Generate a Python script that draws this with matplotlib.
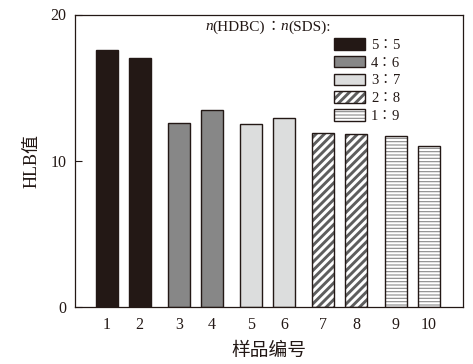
import matplotlib
matplotlib.use("Agg")
import matplotlib.pyplot as plt
from matplotlib.patches import Patch, Rectangle
from matplotlib.legend_handler import HandlerTuple

plt.rcParams['font.family'] = ['Liberation Serif', 'DejaVu Serif', 'Noto Sans CJK SC']

samples = ['1', '2', '3', '4', '5', '6', '7', '8', '9', '10']
hlb = [17.6, 17.0, 12.6, 13.5, 12.5, 12.9, 11.9, 11.85, 11.7, 11.0]
group_of = [0, 0, 1, 1, 2, 2, 3, 3, 4, 4]
ratios = ['5∶5', '4∶6', '3∶7', '2∶8', '1∶9']
title_parts = [('n', 'italic'), ('(HDBC)', 'normal'), ('∶', 'normal'),
               ('n', 'italic'), ('(SDS):', 'normal')]

INK = '#231815'
styles = [
    dict(face=INK, hatch=None, hcolor=None, hlw=None),
    dict(face='#878787', hatch=None, hcolor=None, hlw=None),
    dict(face='#dcdddd', hatch=None, hcolor=None, hlw=None),
    dict(face='white', hatch='////', hcolor='#5e5e5e', hlw=2.1),
    dict(face='white', hatch='-----', hcolor='#8a8a8a', hlw=0.8),
]
hatch_lw = {st['hatch']: st['hlw'] for st in styles if st['hatch']}

fig = plt.figure(figsize=(4.73, 3.64), dpi=100)
ax = fig.add_axes([75/473, 1-307/364, (463-75)/473, (307-14.5)/364])

pos = [i + 0.2*g for i, g in enumerate(group_of)]
width = 0.67


def set_hlw(p, lw):
    try:
        p.set_hatch_linewidth(lw)
    except Exception:
        pass


for x, v, g in zip(pos, hlb, group_of):
    st = styles[g]
    if st['hatch']:
        plt.rcParams['hatch.linewidth'] = st['hlw']
        b = ax.bar(x, v, width, color=st['face'], edgecolor=st['hcolor'],
                   hatch=st['hatch'], linewidth=0)
        set_hlw(b[0], st['hlw'])
        ax.bar(x, v, width, fill=False, edgecolor=INK, linewidth=1.0)
    else:
        ax.bar(x, v, width, color=st['face'], edgecolor=INK, linewidth=1.0)

handles = []
for st in styles:
    if st['hatch']:
        h1 = Patch(facecolor=st['face'], edgecolor=st['hcolor'], hatch=st['hatch'], linewidth=0)
        set_hlw(h1, st['hlw'])
        h2 = Patch(fill=False, edgecolor=INK, linewidth=1.0)
        handles.append((h1, h2))
    else:
        handles.append(Patch(facecolor=st['face'], edgecolor=INK, linewidth=1.0))

leg = ax.legend(handles, ratios, handler_map={tuple: HandlerTuple(ndivide=1, pad=0)},
                loc='upper left', bbox_to_anchor=(334/473, 1-38/364),
                bbox_transform=fig.transFigure, frameon=False, borderpad=0,
                borderaxespad=0, fontsize=10.5, handlelength=2.1, handleheight=0.85,
                labelspacing=0.27, handletextpad=0.45)
for t in leg.get_texts():
    t.set_color(INK)
for r in leg.findobj(Rectangle):
    h = r.get_hatch()
    if h in hatch_lw:
        set_hlw(r, hatch_lw[h])

# legend title assembled from pieces
prev = None
for txt, style in title_parts:
    if prev is None:
        prev = fig.text(205/473, 1-27/364, txt, ha='left', va='center',
                        fontsize=11, style=style, color=INK)
    else:
        prev = ax.annotate(txt, xy=(1, 0), xycoords=prev, ha='left', va='bottom',
                           fontsize=11, style=style, color=INK, annotation_clip=False)

ax.set_xlim(-0.97, 10.85)
ax.set_ylim(0, 20)
ax.set_yticks([0, 10, 20])
ax.set_xticks(pos)
ax.set_xticklabels(samples)
ax.tick_params(axis='x', length=0, labelsize=11.5, pad=7, colors=INK)
ax.tick_params(axis='y', direction='in', length=5, width=0.8, labelsize=11.5, pad=6, colors=INK)
for s in ax.spines.values():
    s.set_linewidth(0.9)
    s.set_color(INK)

ax.set_xlabel('样品编号', fontsize=13.5, family=['Noto Sans CJK SC'], labelpad=5, color=INK)
ax.set_ylabel('HLB值', fontsize=13, family=['Liberation Serif', 'Noto Sans CJK SC'], labelpad=7, color=INK)

fig.savefig('out.png', dpi=100)
